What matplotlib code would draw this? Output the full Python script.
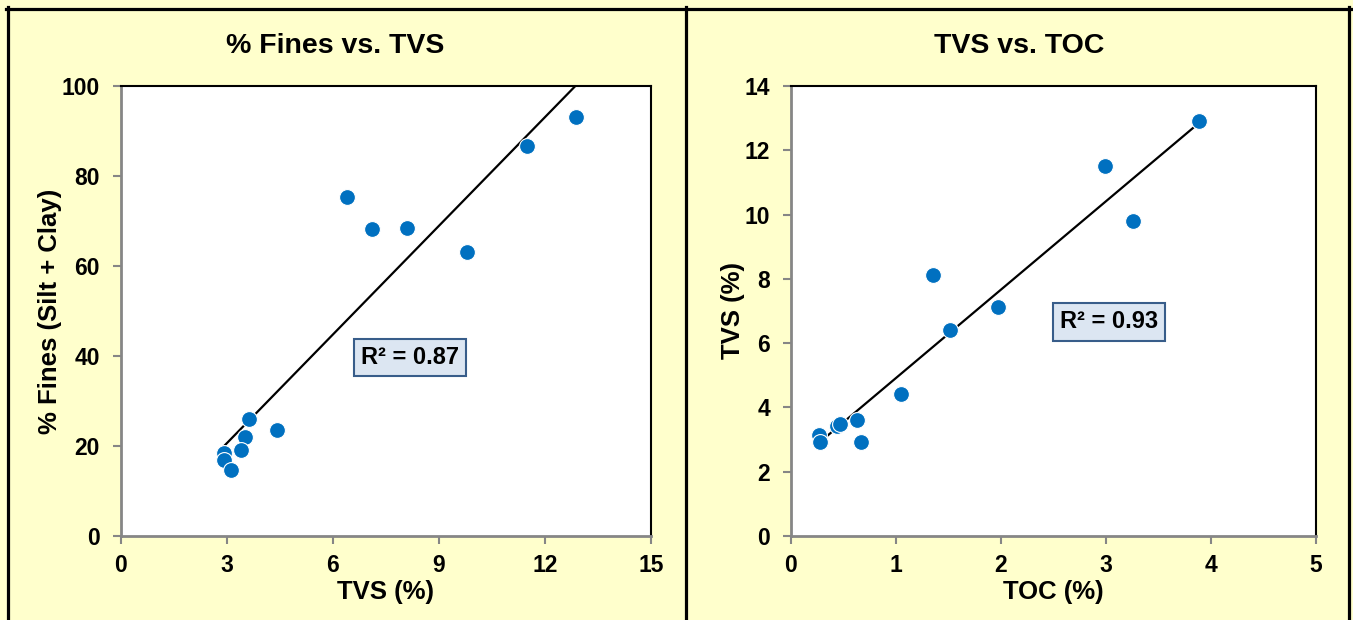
import numpy as np
import matplotlib.pyplot as plt
from matplotlib.lines import Line2D

plt.rcParams['font.family'] = ['Liberation Sans', 'DejaVu Sans']
plt.rcParams['font.weight'] = 'bold'

# TVS (%) vs % fines
tvs_a = [12.88, 11.49, 6.40, 7.10, 8.09, 9.79, 3.62, 4.42, 3.51, 3.40, 2.92, 2.92, 3.11]
fines = [93.1, 86.7, 75.3, 68.2, 68.4, 63.1, 26.0, 23.6, 22.0, 19.1, 18.4, 16.9, 14.7]

# TOC (%) vs TVS (%)
toc = [3.89, 2.99, 3.26, 1.35, 1.97, 1.51, 1.05, 0.63, 0.44, 0.47, 0.27, 0.28, 0.67]
tvs_b = [12.91, 11.51, 9.80, 8.12, 7.12, 6.41, 4.42, 3.61, 3.42, 3.48, 3.14, 2.92, 2.92]

BG = '#FFFFCC'
DOT = '#0070C0'
GRAY = '#868686'
W, H = 1353, 620

fig = plt.figure(figsize=(W / 100, H / 100), dpi=100, facecolor=BG)


def panel(rect, x, y, title, title_x, xlabel, ylabel, xlim, xticks, ylim, yticks,
          r2, r2_pos):
    ax = fig.add_axes(rect)
    ax.set_facecolor('white')
    ax.scatter(x, y, s=130, color=DOT, edgecolors='white', linewidths=0.8, zorder=3)
    k, b = np.polyfit(x, y, 1)
    xs = np.array([min(x), max(x)])
    ax.plot(xs, k * xs + b, color='black', lw=1.6, zorder=2)
    ax.set_xlim(xlim)
    ax.set_ylim(ylim)
    ax.set_xticks(xticks)
    ax.set_yticks(yticks)
    ax.tick_params(direction='out', length=6, width=1.5, color=GRAY,
                   labelsize=16.5)
    ax.tick_params(axis='y', pad=9)
    ax.tick_params(axis='x', pad=7)
    for lab in ax.get_xticklabels() + ax.get_yticklabels():
        lab.set_fontweight('bold')
    for side in ('left', 'bottom'):
        ax.spines[side].set_color(GRAY)
        ax.spines[side].set_linewidth(2)
    for side in ('top', 'right'):
        ax.spines[side].set_color('black')
        ax.spines[side].set_linewidth(1.5)
    # chart title sits centred on the whole panel, not on the plot area
    fig.text(title_x / W, 1 - 46 / H, title, fontsize=20.5, fontweight='bold',
             ha='center', va='center')
    ax.set_xlabel(xlabel, fontsize=18.5, fontweight='bold', labelpad=2)
    ax.set_ylabel(ylabel, fontsize=18.5, fontweight='bold', labelpad=0)
    ax.text(r2_pos[0], r2_pos[1], f'R² = {r2}', fontsize=17, fontweight='bold',
            ha='center', va='center', zorder=4,
            bbox=dict(boxstyle='square,pad=0.3', facecolor='#DCE6F2',
                      edgecolor='#385D8A', linewidth=1.5))
    return ax


panel([0.0894, 0.1355, 0.3917, 0.7258], tvs_a, fines, '% Fines vs. TVS', 335,
      'TVS (%)', '% Fines (Silt + Clay)', (0, 15), range(0, 16, 3),
      (0, 100), range(0, 101, 20), '0.87', (8.18, 39.6))
panel([0.5846, 0.1355, 0.3880, 0.7258], toc, tvs_b, 'TVS vs. TOC', 1019,
      'TOC (%)', 'TVS (%)', (0, 5), range(0, 6),
      (0, 14), range(0, 15, 2), '0.93', (3.03, 6.66))

# black frame around the two panels
lw = 2.3
fig.add_artist(Line2D([6 / W, 1351 / W], [1 - 8.5 / H, 1 - 8.5 / H], color='black', lw=lw))
for px in (7.5, 686, 1349):
    fig.add_artist(Line2D([px / W, px / W], [0, 1 - 7 / H], color='black', lw=lw))

fig.savefig('out.png', dpi=100, facecolor=BG)
